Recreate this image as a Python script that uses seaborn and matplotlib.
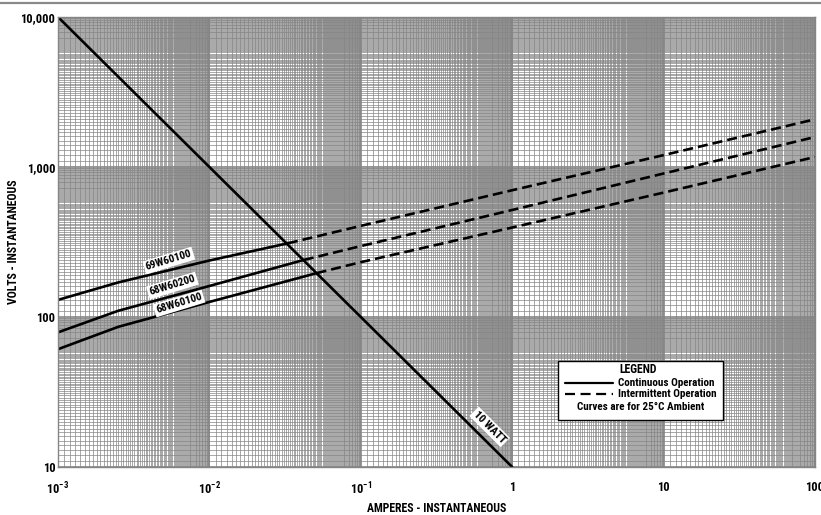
import numpy as np
import pandas as pd
import matplotlib
matplotlib.use("Agg")
import matplotlib.pyplot as plt
import seaborn as sns
from matplotlib.ticker import FixedLocator, NullFormatter
from matplotlib.patches import Rectangle
from matplotlib.lines import Line2D
from matplotlib import font_manager

# values (amperes, volts)
cur_69w60100 = [0.001, 0.0025, 0.01, 0.033, 0.1, 1, 10, 100]
volt_69w60100 = [130, 170, 238, 310, 405, 700, 1200, 2080]
split_69w60100 = 0.033

cur_68w60200 = [0.001, 0.0025, 0.01, 0.042, 0.1, 1, 10, 100]
volt_68w60200 = [79, 110, 161, 240, 297, 517, 905, 1585]
split_68w60200 = 0.042

cur_68w60100 = [0.001, 0.0025, 0.01, 0.051, 0.1, 1, 10, 100]
volt_68w60100 = [61, 86, 126, 196, 232, 395, 675, 1166]
split_68w60100 = 0.051

watt_current = [0.001, 1]
watt_volts = [10000, 10]

x_ticks = [0.001, 0.01, 0.1, 1, 10, 100]
x_labels = [r"$\mathregular{10^{-3}}$", r"$\mathregular{10^{-2}}$", r"$\mathregular{10^{-1}}$", "1", "10", "100"]
y_ticks = [10, 100, 1000, 10000]
y_labels = ["10", "100", "1,000", "10,000"]

# build long table, break point belongs to both segments
rows = []
for name, cur, volt, split in [("69W60100", cur_69w60100, volt_69w60100, split_69w60100),
                               ("68W60200", cur_68w60200, volt_68w60200, split_68w60200),
                               ("68W60100", cur_68w60100, volt_68w60100, split_68w60100)]:
    for i, v in zip(cur, volt):
        if i <= split:
            rows.append((name, "Continuous Operation", i, v))
        if i >= split:
            rows.append((name, "Intermittent Operation", i, v))
df = pd.DataFrame(rows, columns=["device", "operation", "current", "volts"])

sns.set_style("white")
names = {f.name for f in font_manager.fontManager.ttflist}
stretch = "normal"
fam = "Liberation Sans"
for cand in ["Liberation Sans Narrow", "Roboto Condensed", "Open Sans Condensed", "DejaVu Sans Condensed"]:
    if cand in names:
        fam = cand
        break
else:
    cond = [f for f in font_manager.fontManager.ttflist if f.name == "Roboto" and f.stretch == "condensed"]
    if cond:
        fam, stretch = "Roboto", "condensed"
plt.rcParams["font.family"] = [fam, "DejaVu Sans"]
plt.rcParams["font.stretch"] = stretch
plt.rcParams["font.weight"] = "bold"
plt.rcParams["mathtext.default"] = "regular"
for k in ["text.color", "axes.labelcolor", "xtick.color", "ytick.color"]:
    plt.rcParams[k] = "black"

fig = plt.figure(figsize=(8.21, 5.15), dpi=100)
ax = fig.add_axes([58 / 821, 1 - 467 / 515, 757 / 821, 450 / 515])
ax.set_xscale("log")
ax.set_yscale("log")
ax.set_xlim(0.001, 100)
ax.set_ylim(10, 10000)

# graph-paper grid
def paper(lo, hi):
    pts = []
    for e in range(lo, hi):
        pts += list(np.arange(11, 100) / 10 * 10.0 ** e)
    return pts

grid_col = "#858585"
ax.xaxis.set_minor_locator(FixedLocator(paper(-3, 2)))
ax.yaxis.set_minor_locator(FixedLocator(paper(1, 4)))
ax.xaxis.set_minor_formatter(NullFormatter())
ax.yaxis.set_minor_formatter(NullFormatter())
ax.grid(which="minor", color=grid_col, lw=0.5)
ax.grid(which="major", color=grid_col, lw=1.2)
ax.set_axisbelow(True)
for s in ax.spines.values():
    s.set_color(grid_col)
    s.set_linewidth(1)

sns.lineplot(data=df, x="current", y="volts", units="device", style="operation",
             estimator=None, color="black", lw=1.9, legend=False, ax=ax,
             dashes={"Continuous Operation": "", "Intermittent Operation": (3.8, 1.9)})
sns.lineplot(x=watt_current, y=watt_volts, color="black", lw=1.9, ax=ax)

ax.set_xticks(x_ticks)
ax.set_xticklabels(x_labels)
ax.set_yticks(y_ticks)
ax.set_yticklabels(y_labels)
ax.tick_params(which="both", length=0)
ax.tick_params(axis="x", pad=10, labelsize=9)
ax.tick_params(axis="y", pad=2, labelsize=9)
ax.set_xlabel("AMPERES - INSTANTANEOUS", fontsize=8.5, fontweight="bold")
ax.set_ylabel("VOLTS - INSTANTANEOUS", fontsize=8.5, fontweight="bold")
ax.xaxis.set_label_coords(0.5, -0.078)
ax.yaxis.set_label_coords(-0.05, 0.5)

# curve labels
box = dict(boxstyle="square,pad=0.15", fc="white", ec="none")
ax.text(5.4e-3, 238, "69W60100", rotation=17, ha="center", va="center", fontsize=8, fontweight="bold", bbox=box)
ax.text(5.7e-3, 162, "68W60200", rotation=17, ha="center", va="center", fontsize=8, fontweight="bold", bbox=box)
ax.text(6.3e-3, 123, "68W60100", rotation=17, ha="center", va="center", fontsize=8, fontweight="bold", bbox=box)
ax.text(0.71, 18.5, "10 WATT", rotation=-45, ha="center", va="center", fontsize=8, fontweight="bold", bbox=box)

# legend box
T = ax.transAxes
ax.add_patch(Rectangle((0.6605, 0.1044), 0.218, 0.1312, transform=T, fc="white", ec="black", lw=1.0, zorder=5))
ax.text(0.766, 0.2156, "LEGEND", transform=T, ha="center", va="center", fontsize=8.5, fontweight="bold", zorder=6)
ax.add_line(Line2D([0.670, 0.733], [0.1867, 0.1867], transform=T, color="black", lw=1.6, zorder=6))
ax.text(0.740, 0.1867, "Continuous Operation", transform=T, ha="left", va="center", fontsize=8, fontweight="bold", zorder=6)
ax.add_line(Line2D([0.670, 0.733], [0.162, 0.162], transform=T, color="black", lw=1.6, dashes=(4.5, 2.5), zorder=6))
ax.text(0.740, 0.162, "Intermittent Operation", transform=T, ha="left", va="center", fontsize=8, fontweight="bold", zorder=6)
ax.text(0.769, 0.133, "Curves are for 25°C Ambient", transform=T, ha="center", va="center", fontsize=8, fontweight="bold", zorder=6)

# rule across the top
fig.add_artist(Line2D([0, 1], [0.995, 0.995], transform=fig.transFigure, color="#8a8a8a", lw=1.6))

fig.savefig("out.png", dpi=100)
